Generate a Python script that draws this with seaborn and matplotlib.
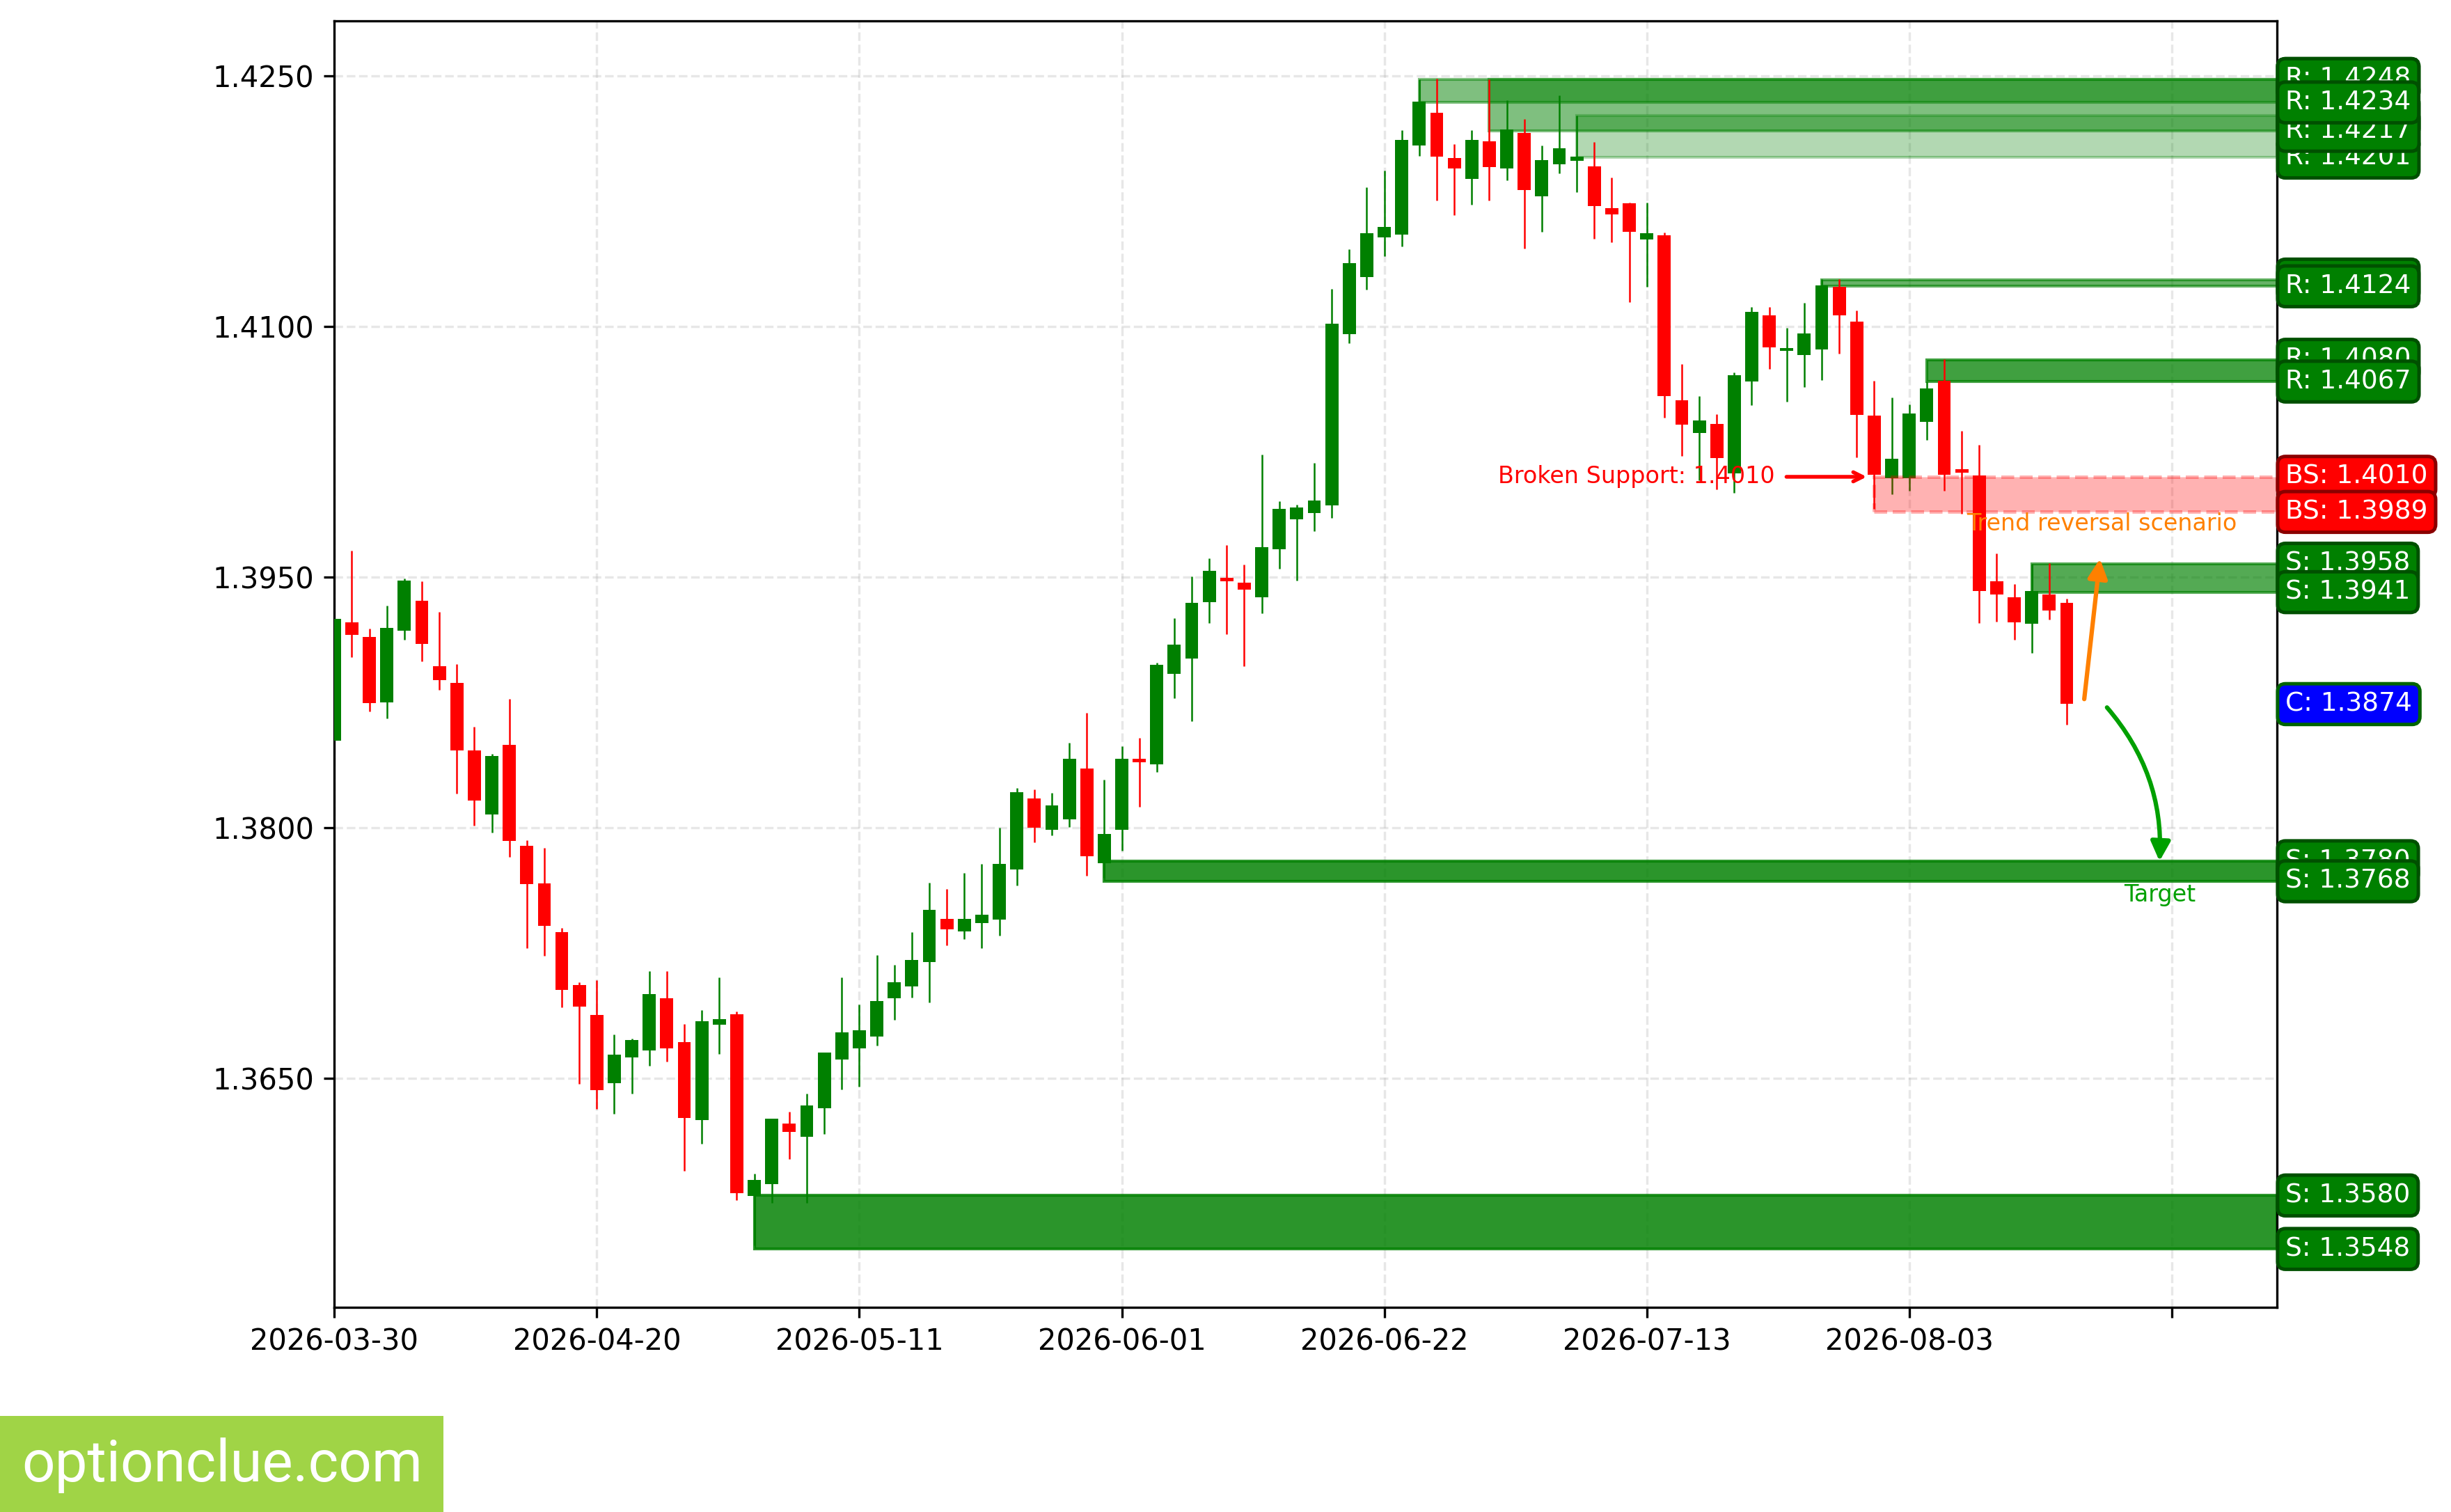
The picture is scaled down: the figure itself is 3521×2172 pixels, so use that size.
import numpy as np
import pandas as pd
import seaborn as sns
import matplotlib.pyplot as plt
from matplotlib.patches import Rectangle
import matplotlib.transforms as mtransforms

# daily candles, one per business day from 2026-03-30
opens = [1.3852, 1.39229, 1.39143, 1.38751, 1.39181, 1.39357, 1.38966, 1.38866, 1.38464, 1.38081,
         1.38496, 1.37893, 1.37667, 1.37377, 1.37058, 1.36879, 1.36471, 1.36624, 1.36666, 1.36978,
         1.36717, 1.36251, 1.36822, 1.36886, 1.35796, 1.35866, 1.36229, 1.36153, 1.36322, 1.36615,
         1.36682, 1.36752, 1.36981, 1.37052, 1.37195, 1.37456, 1.37380, 1.37431, 1.37449, 1.37749,
         1.38176, 1.37990, 1.38049, 1.38356, 1.37790, 1.37990, 1.38414, 1.38378, 1.38923, 1.39014,
         1.39351, 1.39495, 1.39465, 1.39380, 1.39665, 1.39845, 1.39883, 1.39930, 1.40953, 1.41294,
         1.41533, 1.41551, 1.42083, 1.42279, 1.42008, 1.41881, 1.42107, 1.41945, 1.42157, 1.41780,
         1.41971, 1.41992, 1.41958, 1.41708, 1.41736, 1.41521, 1.41545, 1.40558, 1.40364, 1.40415,
         1.40121, 1.40670, 1.41064, 1.40854, 1.40830, 1.40864, 1.41237, 1.41029, 1.40467, 1.40093,
         1.40093, 1.40429, 1.40674, 1.40146, 1.40110, 1.39473, 1.39380, 1.39221, 1.39394, 1.39346]
highs = [1.3928, 1.39659, 1.39191, 1.39331, 1.39490, 1.39474, 1.39290, 1.38980, 1.38604, 1.38442,
         1.38773, 1.37925, 1.37880, 1.37402, 1.37074, 1.37090, 1.36762, 1.36739, 1.37141, 1.37141,
         1.36825, 1.36911, 1.37103, 1.36899, 1.35932, 1.36258, 1.36302, 1.36411, 1.36656, 1.37106,
         1.36943, 1.37240, 1.37182, 1.37374, 1.37673, 1.37632, 1.37731, 1.37782, 1.38000, 1.38239,
         1.38231, 1.38210, 1.38510, 1.38689, 1.38289, 1.38489, 1.38539, 1.38989, 1.39253, 1.39503,
         1.39612, 1.39691, 1.39574, 1.40233, 1.39954, 1.39933, 1.40183, 1.41225, 1.41461, 1.41833,
         1.41934, 1.42176, 1.42480, 1.42484, 1.42091, 1.42176, 1.42479, 1.42351, 1.42242, 1.42083,
         1.42383, 1.42261, 1.42102, 1.41889, 1.41741, 1.41741, 1.41561, 1.40774, 1.40582, 1.40474,
         1.40723, 1.41114, 1.41114, 1.40992, 1.41141, 1.41282, 1.41282, 1.41096, 1.40675, 1.40576,
         1.40533, 1.40670, 1.40805, 1.40375, 1.40290, 1.39641, 1.39460, 1.39580, 1.39582, 1.39372]
lows = [1.3850, 1.39022, 1.38697, 1.38655, 1.39127, 1.38996, 1.38827, 1.38203, 1.38014, 1.37970,
        1.37826, 1.37278, 1.37236, 1.36927, 1.36468, 1.36318, 1.36287, 1.36408, 1.36577, 1.36599,
        1.35949, 1.36108, 1.36647, 1.35771, 1.35500, 1.35757, 1.36019, 1.35757, 1.36169, 1.36434,
        1.36449, 1.36698, 1.36851, 1.36985, 1.36954, 1.37297, 1.37335, 1.37278, 1.37354, 1.37653,
        1.37915, 1.37953, 1.38003, 1.37715, 1.37700, 1.37865, 1.38124, 1.38332, 1.38777, 1.38636,
        1.39226, 1.39157, 1.38968, 1.39285, 1.39548, 1.39479, 1.39776, 1.39856, 1.40898, 1.41219,
        1.41419, 1.41477, 1.42019, 1.41753, 1.41666, 1.41727, 1.41753, 1.41876, 1.41466, 1.41567,
        1.41915, 1.41803, 1.41526, 1.41503, 1.41147, 1.41235, 1.40455, 1.40226, 1.40080, 1.40026,
        1.40006, 1.40529, 1.40745, 1.40548, 1.40636, 1.40678, 1.40835, 1.40218, 1.39910, 1.39996,
        1.40017, 1.40319, 1.40017, 1.39878, 1.39226, 1.39234, 1.39125, 1.39045, 1.39247, 1.38617]
closes = [1.3925, 1.39153, 1.38744, 1.39194, 1.39478, 1.39101, 1.38882, 1.38464, 1.38164, 1.38429,
          1.37922, 1.37664, 1.37415, 1.37032, 1.36930, 1.36430, 1.36643, 1.36729, 1.37007, 1.36682,
          1.36264, 1.36844, 1.36857, 1.35812, 1.35894, 1.36258, 1.36181, 1.36338, 1.36656, 1.36777,
          1.36787, 1.36965, 1.37077, 1.37208, 1.37507, 1.37393, 1.37456, 1.37479, 1.37785, 1.38214,
          1.37999, 1.38135, 1.38414, 1.37828, 1.37964, 1.38414, 1.38390, 1.38976, 1.39096, 1.39346,
          1.39537, 1.39473, 1.39423, 1.39678, 1.39909, 1.39917, 1.39957, 1.41017, 1.41379, 1.41559,
          1.41597, 1.42117, 1.42346, 1.42014, 1.41945, 1.42117, 1.41953, 1.42178, 1.41814, 1.41995,
          1.42067, 1.42015, 1.41721, 1.41671, 1.41564, 1.41556, 1.40582, 1.40414, 1.40436, 1.40214,
          1.40708, 1.41088, 1.40875, 1.40870, 1.40957, 1.41247, 1.41064, 1.40471, 1.40114, 1.40208,
          1.40479, 1.40629, 1.40114, 1.40124, 1.39415, 1.39394, 1.39229, 1.39415, 1.39300, 1.38740]

tick_labels = ['2026-03-30', '2026-04-20', '2026-05-11', '2026-06-01',
               '2026-06-22', '2026-07-13', '2026-08-03', '']
price_ticks = [1.3650, 1.3800, 1.3950, 1.4100, 1.4250]

# support / resistance zones (start bar, low, high, type)
zone_start = [91, 85, 71, 66, 62, 88, 97, 44, 24]
zone_low = [1.4067, 1.4124, 1.4201, 1.4217, 1.4234, 1.3989, 1.3941, 1.3768, 1.3548]
zone_high = [1.4080, 1.4128, 1.4226, 1.4248, 1.4248, 1.4010, 1.3958, 1.3780, 1.3580]
zone_type = ['R', 'R', 'R', 'R', 'R', 'BS', 'S', 'S', 'S']
zone_alpha = [0.75, 0.6, 0.3, 0.5, 0.5, 0.3, 0.67, 0.83, 0.83]

current_close = 1.3874
broken_level = 1.4010


def main():
    sns.set_style("ticks")
    plt.rcParams['font.family'] = ['DejaVu Sans']
    plt.rcParams['axes.linewidth'] = 0.8
    plt.rcParams['axes.edgecolor'] = 'black'
    plt.rcParams['xtick.color'] = 'black'
    plt.rcParams['ytick.color'] = 'black'
    plt.rcParams['xtick.major.width'] = 0.8
    plt.rcParams['ytick.major.width'] = 0.8
    plt.rcParams['xtick.major.size'] = 3.5
    plt.rcParams['ytick.major.size'] = 3.5

    df = pd.DataFrame({'open': opens, 'high': highs, 'low': lows, 'close': closes})
    df['x'] = np.arange(len(df))
    df['up'] = df['close'] >= df['open']
    df['color'] = np.where(df['up'], 'green', 'red')
    df['bottom'] = df[['open', 'close']].min(axis=1)
    df['body'] = (df['close'] - df['open']).abs().clip(lower=0.00004)

    fig = plt.figure(figsize=(3521 / 300, 2172 / 300), dpi=300)
    ax = fig.add_axes([0.1364, 0.1355, 0.9289 - 0.1364, 0.9862 - 0.1355])
    x_right = 111

    ax.grid(True, linestyle='--', color='#b0b0b0', alpha=0.3, linewidth=0.8, zorder=0)
    ax.set_axisbelow(True)

    # zones
    label_tr = mtransforms.blended_transform_factory(ax.transAxes, ax.transData)
    for s, lo, hi, kind, a in zip(zone_start, zone_low, zone_high, zone_type, zone_alpha):
        if kind == 'BS':
            rect = Rectangle((s, lo), x_right - s, hi - lo, facecolor='red', edgecolor='red',
                             alpha=a, linestyle='--', linewidth=1.2, zorder=4)
            fc, ec = 'red', 'darkred'
        else:
            rect = Rectangle((s, lo), x_right - s, hi - lo, facecolor='green', edgecolor='green',
                             alpha=a, linewidth=1.0, zorder=1)
            fc, ec = 'green', '#005000'
        ax.add_patch(rect)
        for v in (hi, lo):
            ax.text(1.0045, v, f"{kind}: {v:.4f}", transform=label_tr, ha='left', va='center',
                    fontsize=9, color='white', clip_on=False, zorder=10,
                    bbox=dict(boxstyle='round,pad=0.3', fc=fc, ec=ec, lw=1.2))

    ax.text(1.0045, current_close, f"C: {current_close:.4f}", transform=label_tr, ha='left',
            va='center', fontsize=9, color='white', clip_on=False, zorder=10,
            bbox=dict(boxstyle='round,pad=0.3', fc='blue', ec='#006400', lw=1.2))

    # candles
    ax.vlines(df['x'], df['low'], df['high'], colors=df['color'], linewidth=0.6, zorder=2)
    ax.bar(df['x'], df['body'], bottom=df['bottom'], width=0.75, color=df['color'],
           linewidth=0, zorder=3)

    # annotations
    ax.annotate(f"Broken Support: {broken_level:.4f}", xy=(87.9, broken_level),
                xytext=(82.3, broken_level), ha='right', va='center', fontsize=8, color='red',
                arrowprops=dict(arrowstyle='->', color='red', lw=1.3), zorder=6)

    ax.annotate('', xy=(100.9, 1.3961), xytext=(100.0, 1.3877),
                arrowprops=dict(arrowstyle='-|>', color='#ff8000', lw=1.5,
                                mutation_scale=14, shrinkA=0, shrinkB=0), zorder=6)
    ax.text(101.0, 1.3982, 'Trend reversal scenario', ha='center', va='center',
            fontsize=8, color='#ff8000', zorder=6)

    ax.annotate('', xy=(104.3, 1.3780), xytext=(101.3, 1.3872),
                arrowprops=dict(arrowstyle='-|>', color='#00a000', lw=1.5,
                                mutation_scale=14, shrinkA=0, shrinkB=0,
                                connectionstyle='arc3,rad=-0.2'), zorder=6)
    ax.text(104.3, 1.3760, 'Target', ha='center', va='center', fontsize=8,
            color='#00a000', zorder=6)

    ax.set_xlim(0, x_right)
    ax.set_ylim(1.35132, 1.42828)
    ax.set_xticks(range(0, 106, 15))
    ax.set_xticklabels(tick_labels, fontsize=10)
    ax.set_yticks(price_ticks)
    ax.set_yticklabels([f"{p:.4f}" for p in price_ticks], fontsize=10)
    for side in ['top', 'right', 'left', 'bottom']:
        ax.spines[side].set_visible(True)
        ax.spines[side].set_color('black')

    # site badge
    fig.patches.append(Rectangle((0, 0), 637 / 3521, 138 / 2172, transform=fig.transFigure,
                                 facecolor='#a0d446', edgecolor='none', zorder=20))
    fig.text(0.009, 0.031, 'optionclue.com', family=['Roboto', 'DejaVu Sans'], fontsize=20,
             color='white', ha='left', va='center', zorder=21)

    fig.savefig('out.png', dpi=300)


if __name__ == "__main__":
    main()
